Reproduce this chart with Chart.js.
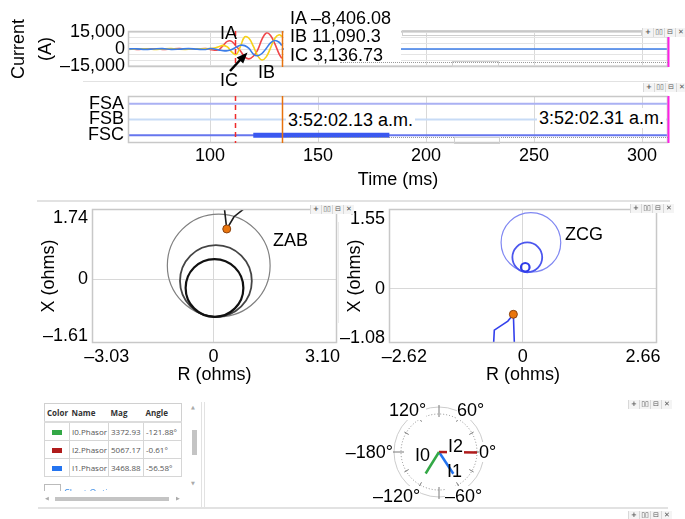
<!DOCTYPE html>
<html>
<head>
<meta charset="utf-8">
<script src="https://cdn.jsdelivr.net/npm/chart.js@4.4.0/dist/chart.umd.min.js"></script>
<style>
  body { margin: 0; background: #fff; }
  #page { position: relative; width: 685px; height: 519px; overflow: hidden; font-family: 'Liberation Sans', Arial, sans-serif; color: #000; }
  canvas { position: absolute; }
  .t { position: absolute; font-size: 18px; line-height: 20px; white-space: nowrap; }
  .bg { background: #fff; }
  .ln { position: absolute; background: #e2e2e2; }
  .icons { position: absolute; display: flex; font-family: 'DejaVu Sans', sans-serif; font-size: 7px; color: #555; background: #f4f4f4; }
  .icons span { width: 10px; height: 9px; line-height: 9px; text-align: center; border-left: 1px solid #d8d8d8; }
  table.ph { position: absolute; left: 44px; top: 403px; width: 137px; border-collapse: collapse; table-layout: fixed;
             font-family: 'Open Sans', sans-serif; font-size: 8px; color: #555; border: 1px solid #d0d0d0; }
  table.ph th { height: 17px; text-align: left; padding: 0 2px; font-weight: bold; color: #333; border-bottom: 2px solid #dcdcdc; }
  table.ph td { height: 17px; padding: 0 2px; border: 1px solid #d6d6d6; white-space: nowrap; overflow: hidden; }
  table.ph td.sw { text-align: center; }
  table.ph td.sw i { display: inline-block; width: 10px; height: 5px; vertical-align: middle; }
</style>
</head>
<body>
<div id="page">
  <canvas id="wave" width="685" height="95" style="left:0;top:0"></canvas>
  <canvas id="digital" width="685" height="118" style="left:0;top:82px"></canvas>
  <canvas id="zab" width="340" height="190" style="left:0;top:200px"></canvas>
  <canvas id="zcg" width="345" height="190" style="left:340px;top:200px"></canvas>
  <canvas id="phasor" width="160" height="116" style="left:359px;top:394px"></canvas>

  <!-- panel separators -->
  <div class="ln" style="left:83px;top:81px;width:585px;height:1px"></div>
  <div class="ln" style="left:37px;top:200px;width:633px;height:2px"></div>
  <div class="ln" style="left:338px;top:222px;width:1px;height:101px;background:#ebebeb"></div>
  <div class="ln" style="left:38px;top:507px;width:630px;height:2px"></div>
  <div class="ln" style="left:201px;top:402px;width:1px;height:105px"></div>
  <div class="ln" style="left:204px;top:402px;width:1px;height:105px"></div>

  <!-- cursor value box on the current plot -->
  <div class="bg" style="position:absolute;left:284px;top:0;width:117px;height:61px"></div>
  <div class="t" id="valIA" style="left:290px;top:8px"></div>
  <div class="t" id="valIB" style="left:290px;top:26px"></div>
  <div class="t" id="valIC" style="left:290px;top:45px"></div>
  <div style="position:absolute;left:402px;top:30px;width:238px;height:4px;border:1px solid #cfcfcf"></div>
  <div style="position:absolute;left:340px;top:62px;width:328px;border-top:1px dotted #999"></div>
  <div style="position:absolute;left:452px;top:61px;width:45px;height:4px;border:1px solid #d0d0d0"></div>

  <div class="t" style="left:220px;top:23px">IA</div>
  <div class="t" style="left:258px;top:62px">IB</div>
  <div class="t" style="left:220px;top:70px">IC</div>
  <svg style="position:absolute;left:0;top:0" width="685" height="100">
    <line x1="230" y1="71" x2="241" y2="59" stroke="#000" stroke-width="2.5"/>
    <polygon points="247.5,52.5 243.2,63.6 236.6,57.4" fill="#000"/>
  </svg>

  <!-- digital time stamps -->
  <div class="t bg" style="left:286px;top:110px;padding:0 2px">3:52:02.13 a.m.</div>
  <div class="t bg" style="right:19px;top:108px;padding:0 2px">3:52:02.31 a.m.</div>
  <div style="position:absolute;left:287px;top:137px;width:381px;border-top:1px dotted #999"></div>
  <div style="position:absolute;left:454px;top:137px;width:44px;height:5px;border:1px solid #d0d0d0"></div>

  <div class="t" style="left:273px;top:230px">ZAB</div>
  <div class="t" style="left:565px;top:224px">ZCG</div>

  <!-- phasor angle labels -->
  <div class="t bg" style="left:389px;top:400px">120°</div>
  <div class="t bg" style="left:457px;top:400px">60°</div>
  <div class="t bg" style="right:292px;top:442px">–180°</div>
  <div class="t bg" style="left:479px;top:442px">0°</div>
  <div class="t bg" style="left:373px;top:486px">–120°</div>
  <div class="t bg" style="left:445px;top:486px">–60°</div>
  <div class="t" id="lblI0" style="left:415px;top:445px"></div>
  <div class="t bg" id="lblI2" style="left:447px;top:436px;padding:0 1px"></div>
  <div class="t" id="lblI1" style="left:447px;top:461px"></div>

  <!-- phasor table and its scroll furniture -->
  <table class="ph" id="phTable">
    <colgroup><col style="width:25px"><col style="width:39px"><col style="width:35px"><col style="width:38px"></colgroup>
  </table>
  <div style="position:absolute;left:191px;top:404px;font-size:5px;color:#aaa;font-family:'DejaVu Sans'">▲</div>
  <div style="position:absolute;left:192px;top:430px;width:5px;height:25px;background:#c4c4c4"></div>
  <div style="position:absolute;left:191px;top:480px;font-size:5px;color:#aaa;font-family:'DejaVu Sans'">▼</div>
  <div style="position:absolute;left:45px;top:495px;font-size:5px;color:#aaa;font-family:'DejaVu Sans'">◀</div>
  <div style="position:absolute;left:55px;top:497px;width:114px;height:4px;background:#c4c4c4"></div>
  <div style="position:absolute;left:176px;top:495px;font-size:5px;color:#aaa;font-family:'DejaVu Sans'">▶</div>
  <div style="position:absolute;left:44px;top:484px;width:140px;height:7px;overflow:hidden">
    <div style="position:absolute;left:0;top:0;width:15px;height:12px;border:1px solid #bbb"></div>
    <div style="position:absolute;left:20px;top:2px;font-family:'Open Sans';font-size:9px;color:#3d8de6">Chart Options</div>
  </div>
</div>

<script>
// ---------- data ----------
// currents (A) vs time (ms), cursor sample last
const timeMs = [62, 66, 70, 74, 78, 82, 86, 90, 94, 98,
  100, 102, 104, 106, 108, 110, 112, 114, 116, 118, 120, 122, 124, 126, 128, 130, 132, 133.2];
const iaAmps = [200, -300, 100, 250, -300, 50, 300, -250, -100, 300,
  -300, -1000, -800, 3000, 6800, 6800, 2500, -1500, -7000, -8800, -6500, -1000, 8500, 14300, 12000, 4500, -4500, -8406.08];
const ibAmps = [-300, 150, 250, -300, 0, 300, -200, -250, 250, 150,
  300, 800, 2000, 3200, 1800, -2500, -5000, 2000, 10800, 9500, 2500, -6000, -9800, -7000, 1000, 9500, 12600, 11090.3];
const icAmps = [100, 150, -350, 50, 300, -350, -100, 350, -150, -400,
  400, 0, -800, -1600, -1500, -500, 1500, 3300, 3000, 500, -4500, -6000, -4000, 500, 5500, 7500, 6000, 3136.73];
const tailMs = [133.2, 312];
const tailAmps = [0, 0];

const timeTicks = [100, 150, 200, 250, 300];
const currentGrid = [-15000, -10000, -5000, 0, 5000, 10000, 15000];
const currentLabels = [-15000, 0, 15000];
const cursorMs = [111.5, 133.2, 311.8];   // fault mark, cursor, end

// digital channels
const digitalNames = ['FSA', 'FSB', 'FSC'];
const fscOnMs = [120, 183];

// impedance planes (ohms)
const zabTicksR = [-3.03, 0, 3.10];
const zabTicksX = [-1.61, 0, 1.74];
const zabCircleR = [0.15, 0.07, 0.03];
const zabCircleX = [0.395, -0.05, -0.245];
const zabCircleRad = [1.46, 1.02, 0.82];
const zabPathR = [0.29, 0.378, 0.585, 1.11];
const zabPathX = [2.2, 1.432, 1.78, 2.2];
const zabDot = [0.378, 1.432];

const zcgTicksR = [-2.62, 0, 2.66];
const zcgTicksX = [-1.08, 0, 1.55];
const zcgCircleR = [0.18, 0.10, 0.055];
const zcgCircleX = [1.03, 0.70, 0.48];
const zcgCircleRad = [0.66, 0.33, 0.095];
const zcgPathR = [-0.65, -0.63, -0.33, -0.208, -0.183];
const zcgPathX = [-1.3, -0.91, -0.71, -0.56, -1.3];
const zcgDot = [-0.208, -0.56];

// sequence phasors
const phasorNames = ['I0', 'I2', 'I1'];
const phasorMag = [3372.93, 5067.17, 3468.88];
const phasorAng = [-121.88, -0.61, -56.58];
const phasorColors = ['#33a846', '#b01c1c', '#2474f0'];

// ---------- helpers ----------
Chart.defaults.font.family = "'Liberation Sans', Arial, sans-serif";
Chart.defaults.color = '#000';

const pts = (xs, ys) => xs.map((x, i) => ({x, y: ys[i]}));
function fmtNum(v) {
  const s = Math.abs(v).toString().split('.');
  s[0] = s[0].replace(/\B(?=(\d{3})+(?!\d))/g, ',');
  return (v < 0 ? '\u2013' : '') + s.join('.');
}
const fmtOhm = v => v === 0 ? '0' : (v < 0 ? '\u2013' : '') + Math.abs(v).toFixed(2);
const setTicks = list => s => { s.ticks = list.map(value => ({value})); };
// fix an axis thickness and drop the label overflow padding so the plot box lands where it should
const fixW = w => s => { s.width = w; s.paddingTop = s.paddingBottom = 0; };
const fixH = h => s => { s.height = h; s.paddingLeft = s.paddingRight = 0; };
const noUi = {legend: {display: false}, tooltip: {enabled: false}};

const framePlugin = {
  id: 'frame',
  afterDatasetsDraw(chart, args, opts) {
    const {ctx, chartArea: a} = chart;
    ctx.save();
    ctx.strokeStyle = opts.color || '#c6c6c6';
    ctx.lineWidth = opts.width || 1.5;
    ctx.strokeRect(a.left + 0.5, a.top + 0.5, a.width - 1, a.height - 1);
    ctx.restore();
  }
};

// vertical time cursors: fault (red dashed), cursor (orange), end (magenta)
const cursorStyle = [
  {color: '#f02a2a', width: 1.5, dash: [5, 4]},
  {color: '#e8720c', width: 1.5, dash: []},
  {color: '#ff1ee6', width: 2, dash: []}
];
const cursorPlugin = {
  id: 'cursors',
  afterDatasetsDraw(chart) {
    const {ctx, chartArea: a, scales: {x}} = chart;
    cursorMs.forEach((t, i) => {
      const st = cursorStyle[i];
      const px = Math.round(x.getPixelForValue(t)) + 0.5;
      ctx.save();
      ctx.strokeStyle = st.color; ctx.lineWidth = st.width; ctx.setLineDash(st.dash);
      ctx.beginPath(); ctx.moveTo(px, a.top); ctx.lineTo(px, a.bottom); ctx.stroke();
      ctx.restore();
    });
  }
};

// ---------- current waveforms ----------
const wave = (data, color) => ({data, borderColor: color, borderWidth: 1.6, pointRadius: 0, tension: 0.4, clip: 0});

new Chart(document.getElementById('wave'), {
  type: 'line',
  data: {datasets: [
    wave(pts(timeMs, icAmps), '#3b7de8'),
    wave(pts(tailMs, tailAmps), '#3b7de8'),
    wave(pts(timeMs, ibAmps), '#f6d11b'),
    wave(pts(timeMs, iaAmps), '#f0464a')
  ]},
  options: {
    responsive: false, animation: false, devicePixelRatio: 1, events: [],
    layout: {autoPadding: false, padding: {top: 31, right: 17, left: 0, bottom: 0}},
    scales: {
      x: {
        type: 'linear', min: 62, max: 312,
        afterBuildTicks: setTicks(timeTicks),
        afterFit: fixH(28),
        ticks: {display: false},
        grid: {color: '#d9d9d9', drawTicks: false},
        border: {display: false}
      },
      y: {
        min: -16000, max: 16000,
        afterBuildTicks: setTicks(currentGrid),
        afterFit: fixW(128),
        ticks: {autoSkip: false, padding: 3, font: {size: 18},
                callback: v => currentLabels.includes(v) ? fmtNum(v) : ''},
        grid: {color: '#e4e4e4', drawTicks: false},
        border: {display: false},
        title: {display: true, text: ['Current', '(A)'], font: {size: 18, lineHeight: 1.5}, padding: {top: 6, bottom: 0}}
      }
    },
    plugins: {...noUi, frame: {color: '#c8c8c8', width: 1.5}}
  },
  plugins: [framePlugin, cursorPlugin]
});

document.getElementById('valIA').textContent = 'IA ' + fmtNum(iaAmps[iaAmps.length - 1]);
document.getElementById('valIB').textContent = 'IB ' + fmtNum(ibAmps[ibAmps.length - 1]);
document.getElementById('valIC').textContent = 'IC ' + fmtNum(icAmps[icAmps.length - 1]);

// ---------- digital channels ----------
const channelColors = ['#aab1f3', '#c7dbf6', '#6676ee'];
const chan = (name, from, to, color, width) => ({
  data: [{x: from, y: name}, {x: to, y: name}],
  borderColor: color, borderWidth: width, borderCapStyle: 'butt', pointRadius: 0, clip: 0
});

new Chart(document.getElementById('digital'), {
  type: 'line',
  data: {datasets: [
    chan('FSC', fscOnMs[0], fscOnMs[1], '#3a58f0', 5),
    ...digitalNames.map((n, i) => chan(n, 62, 312, channelColors[i], 2))
  ]},
  options: {
    responsive: false, animation: false, devicePixelRatio: 1, events: [],
    layout: {autoPadding: false, padding: {top: 14, right: 17, left: 0, bottom: 0}},
    scales: {
      x: {
        type: 'linear', min: 62, max: 312,
        afterBuildTicks: setTicks(timeTicks),
        afterFit: fixH(57),
        ticks: {autoSkip: false, maxRotation: 0, padding: 2, font: {size: 18}},
        grid: {color: '#d9d9d9', drawTicks: false},
        border: {display: false},
        title: {display: true, text: 'Time (ms)', font: {size: 18}, padding: {top: 0, bottom: 9}}
      },
      y: {
        type: 'category', labels: digitalNames, offset: true,
        afterFit: fixW(128),
        ticks: {autoSkip: false, padding: 4, font: {size: 18}},
        grid: {display: false, drawTicks: false},
        border: {display: false}
      }
    },
    plugins: {...noUi, frame: {color: '#c8c8c8', width: 1.5}}
  },
  plugins: [framePlugin, cursorPlugin]
});

// ---------- impedance planes ----------
const pxLen = (chart, d) => Math.abs(chart.scales.x.getPixelForValue(d) - chart.scales.x.getPixelForValue(0));

function impedanceChart(id, v) {
  const ch = new Chart(document.getElementById(id), {
    type: 'scatter',
    data: {datasets: [
      {data: [{x: v.dot[0], y: v.dot[1]}], pointRadius: 4, pointBackgroundColor: '#ea760e',
       pointBorderColor: '#8a4310', pointBorderWidth: 1},
      {type: 'line', data: pts(v.pathR, v.pathX), borderColor: v.pathColor, borderWidth: 1.6,
       pointRadius: 0, tension: 0, clip: 0},
      // characteristic circles: centre points whose marker radius is the circle radius in ohms
      {data: pts(v.cR, v.cX), pointRadius: 0, pointBorderColor: v.circleColors,
       pointBorderWidth: v.circleWidths, pointBackgroundColor: 'rgba(0,0,0,0)', clip: false}
    ]},
    options: {
      responsive: false, animation: false, devicePixelRatio: 1, events: [],
      layout: {autoPadding: false, padding: {top: 9, right: v.padRight, left: 0, bottom: 0}},
      scales: {
        x: {
          type: 'linear', min: v.view[0], max: v.view[1],
          afterBuildTicks: setTicks(v.ticksR),
          afterFit: fixH(47),
          ticks: {autoSkip: false, maxRotation: 0, padding: 3, font: {size: 18}, callback: fmtOhm},
          grid: {drawTicks: false, color: c => c.tick && c.tick.value === 0 ? '#d8d8d8' : 'rgba(0,0,0,0)'},
          border: {display: false},
          title: {display: true, text: 'R (ohms)', font: {size: 18}, padding: {top: 0, bottom: 4}}
        },
        y: {
          type: 'linear', min: v.view[2], max: v.view[3],
          afterBuildTicks: setTicks(v.ticksX),
          afterFit: fixW(v.yWidth),
          ticks: {autoSkip: false, padding: 4, font: {size: 18}, callback: fmtOhm},
          grid: {drawTicks: false, color: c => c.tick && c.tick.value === 0 ? '#d8d8d8' : 'rgba(0,0,0,0)'},
          border: {display: false},
          title: {display: true, text: 'X (ohms)', font: {size: 18}, padding: {top: v.titlePad, bottom: 0}}
        }
      },
      plugins: {...noUi, frame: {color: '#c8c8c8', width: 1.5}}
    },
    plugins: [framePlugin]
  });
  // scales are laid out now: turn the radii (ohms) into pixels and redraw
  ch.data.datasets[2].pointRadius = v.cRad.map(d => pxLen(ch, d));
  ch.update();
  return ch;
}

impedanceChart('zab', {
  dot: zabDot, pathR: zabPathR, pathX: zabPathX, pathColor: '#1c1c1c',
  cR: zabCircleR, cX: zabCircleX, cRad: zabCircleRad,
  circleColors: ['#808080', '#444444', '#111111'], circleWidths: [1.2, 1.8, 2.2],
  ticksR: zabTicksR, ticksX: zabTicksX, view: [-3.45, 3.51, -1.81, 2.0],
  yWidth: 92, padRight: 3, titlePad: 38
});

impedanceChart('zcg', {
  dot: zcgDot, pathR: zcgPathR, pathX: zcgPathX, pathColor: '#3340ec',
  cR: zcgCircleR, cX: zcgCircleX, cRad: zcgCircleRad,
  circleColors: ['#8088f2', '#4b56ee', '#2f3ce9'], circleWidths: [1.2, 1.8, 2.2],
  ticksR: zcgTicksR, ticksX: zcgTicksX, view: [-2.96, 2.97, -1.195, 1.77],
  yWidth: 49, padRight: 28, titlePad: 4
});

// ---------- phasor diagram ----------
const ringPx = 38;                               // radius of the largest phasor
const phK = Math.max(...phasorMag) / ringPx;     // amps per pixel

const ringPlugin = {
  id: 'ring',
  beforeDatasetsDraw(chart) {
    const {ctx, scales: {x, y}} = chart;
    const cx = x.getPixelForValue(0), cy = y.getPixelForValue(0);
    const r = x.getPixelForValue(Math.max(...phasorMag)) - cx;
    ctx.save();
    ctx.strokeStyle = '#cccccc'; ctx.lineWidth = 1;
    ctx.beginPath(); ctx.arc(cx, cy, r + 7, 0, Math.PI * 2); ctx.stroke();
    ctx.strokeStyle = '#8a8a8a'; ctx.setLineDash([1, 2]);
    ctx.beginPath(); ctx.arc(cx, cy, r, 0, Math.PI * 2); ctx.stroke();
    ctx.setLineDash([]); ctx.strokeStyle = '#7a7a7a';
    for (let a = 0; a < 360; a += 30) {
      const t = a * Math.PI / 180;
      const r0 = r - 3, r1 = a % 90 === 0 ? r + 9 : r + 2;
      ctx.beginPath();
      ctx.moveTo(cx + r0 * Math.cos(t), cy - r0 * Math.sin(t));
      ctx.lineTo(cx + r1 * Math.cos(t), cy - r1 * Math.sin(t));
      ctx.stroke();
    }
    ctx.restore();
  }
};

new Chart(document.getElementById('phasor'), {
  type: 'scatter',
  data: {datasets: phasorNames.map((n, i) => {
    const t = phasorAng[i] * Math.PI / 180;
    return {type: 'line', data: [{x: 0, y: 0}, {x: phasorMag[i] * Math.cos(t), y: phasorMag[i] * Math.sin(t)}],
            borderColor: phasorColors[i], borderWidth: 2.5, pointRadius: 0, clip: false};
  })},
  options: {
    responsive: false, animation: false, devicePixelRatio: 1, events: [],
    layout: {autoPadding: false, padding: 0},
    scales: {
      x: {type: 'linear', display: false, min: -80 * phK, max: 80 * phK},
      y: {type: 'linear', display: false, min: -58 * phK, max: 58 * phK}
    },
    plugins: {...noUi}
  },
  plugins: [ringPlugin]
});

phasorNames.forEach(n => { document.getElementById('lbl' + n).textContent = n; });

// phasor table
const tbl = document.getElementById('phTable');
let html = '<tr><th>Color</th><th>Name</th><th>Mag</th><th>Angle</th></tr>';
phasorNames.forEach((n, i) => {
  html += '<tr><td class="sw"><i style="background:' + phasorColors[i] + '"></i></td><td>' + n + '.Phasor</td><td>' +
          phasorMag[i].toFixed(2) + '</td><td>' + phasorAng[i].toFixed(2) + '°</td></tr>';
});
tbl.insertAdjacentHTML('beforeend', html);

// panel toolbar buttons
const page = document.getElementById('page');
[[642, 28], [643, 83], [310, 205], [630, 204], [628, 400], [628, 511]].forEach(([l, t]) => {
  const d = document.createElement('div');
  d.className = 'icons';
  d.style.left = l + 'px'; d.style.top = t + 'px';
  d.innerHTML = '<span style="font-weight:bold">+</span><span>▯▯</span><span>⊟</span><span style="font-weight:bold">✕</span>';
  page.appendChild(d);
});
</script>
</body>
</html>
